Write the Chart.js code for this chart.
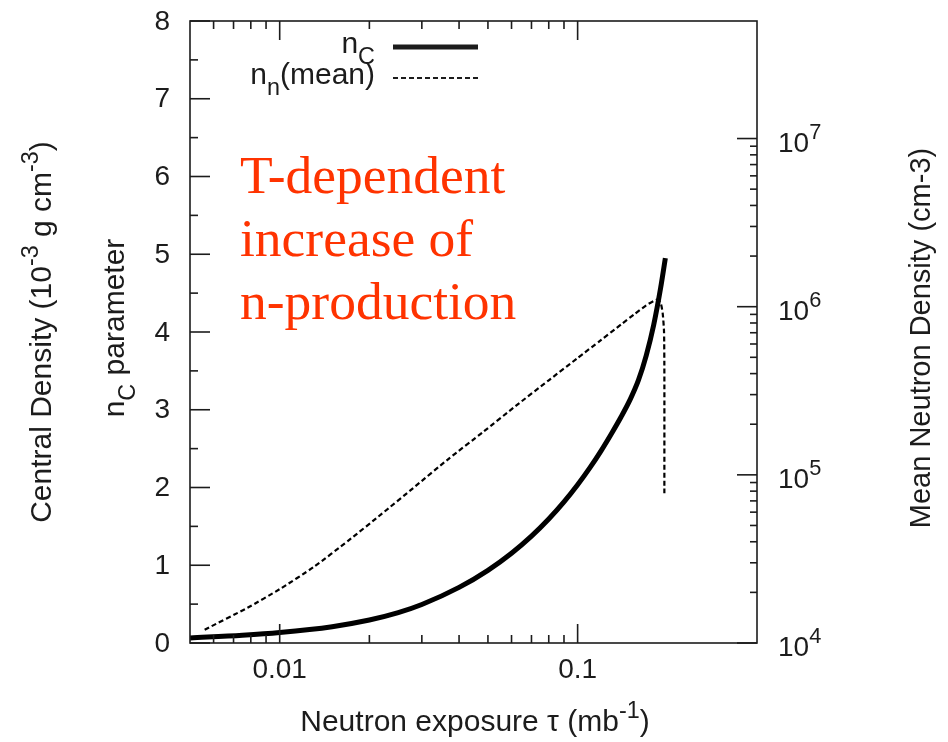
<!DOCTYPE html>
<html>
<head>
<meta charset="utf-8">
<script src="https://cdn.jsdelivr.net/npm/chart.js@4.4.1/dist/chart.umd.min.js"></script>
<style>
  html, body { margin: 0; padding: 0; background: #ffffff; }
  #wrap { width: 948px; height: 742px; }
</style>
</head>
<body>
<div id="wrap"><canvas id="c" width="948" height="742"></canvas></div>
<script>
// Neutron exposure tau (mb^-1) and the nC parameter along it
const tauC = [0.005, 0.0075, 0.01, 0.015, 0.02, 0.025, 0.03, 0.04, 0.05, 0.06, 0.07,
              0.08, 0.09, 0.10, 0.11, 0.12, 0.13, 0.14, 0.15, 0.16, 0.17, 0.18,
              0.19, 0.197];
const nC   = [0.065, 0.10, 0.135, 0.21, 0.295, 0.39, 0.495, 0.715, 0.935, 1.155, 1.375,
              1.595, 1.815, 2.035, 2.255, 2.475, 2.695, 2.91, 3.13, 3.38, 3.70, 4.09,
              4.57, 4.95];

// Mean neutron density (cm^-3) along the exposure
const tauN   = [0.0056, 0.0078, 0.010, 0.013, 0.017, 0.022, 0.028, 0.037, 0.048, 0.062,
                0.080, 0.100, 0.120, 0.140, 0.155, 0.170, 0.180, 0.185, 0.190, 0.193,
                0.195, 0.1955, 0.1955];
const nnMean = [1.20e4, 1.62e4, 2.09e4, 2.83e4, 4.06e4, 5.86e4, 8.32e4, 1.25e5, 1.79e5, 2.57e5,
                3.65e5, 4.95e5, 6.35e5, 7.85e5, 9.02e5, 1.02e6, 1.08e6, 1.10e6, 1.05e6, 9.12e5,
                7.08e5, 3.98e5, 7.76e4];

// Axis ticks
const xMajorTicks = [0.01, 0.1];
const xTickLabels = ['0.01', '0.1'];
const xMinorTicks = [0.006, 0.007, 0.008, 0.009, 0.02, 0.03, 0.04, 0.05, 0.06, 0.07, 0.08, 0.09];
const yMajorTicks = [0, 1, 2, 3, 4, 5, 6, 7, 8];
const yMinorTicks = [0.5, 1.5, 2.5, 3.5, 4.5, 5.5, 6.5, 7.5];
const y2MajorTicks = [1e4, 1e5, 1e6, 1e7];
const y2Exponents = ['4', '5', '6', '7'];
const y2MinorTicks = [2e4, 3e4, 4e4, 5e4, 6e4, 7e4, 8e4, 9e4,
                      2e5, 3e5, 4e5, 5e5, 6e5, 7e5, 8e5, 9e5,
                      2e6, 3e6, 4e6, 5e6, 6e6, 7e6, 8e6, 9e6];

const noteLines = ['T-dependent', 'increase of', 'n-production'];

const INK = '#1c1c1c';
const SANS = '"Liberation Sans", Arial, sans-serif';

// Draws a run of text pieces; each piece is [text, shift] with shift 0 normal, 1 superscript, -1 subscript
function richWidth(ctx, parts, size) {
  let w = 0;
  for (const [t, s] of parts) {
    ctx.font = (s ? size * 0.78 : size) + 'px ' + SANS;
    w += ctx.measureText(t).width;
  }
  return w;
}
function drawRich(ctx, parts, x, y, size, align) {
  const w = richWidth(ctx, parts, size);
  let cx = align === 'center' ? x - w / 2 : align === 'right' ? x - w : x;
  ctx.textAlign = 'left';
  ctx.textBaseline = 'alphabetic';
  for (const [t, s] of parts) {
    ctx.font = (s ? size * 0.78 : size) + 'px ' + SANS;
    const dy = s === 1 ? -size * 0.45 : s === -1 ? size * 0.36 : 0;
    ctx.fillText(t, cx, y + dy);
    cx += ctx.measureText(t).width;
  }
}

const framePlugin = {
  id: 'frame',
  afterDraw(chart) {
    const { ctx, chartArea: a, scales } = chart;
    const sx = scales.x, sy = scales.y, sy2 = scales.y2;
    ctx.save();
    ctx.strokeStyle = INK;
    ctx.fillStyle = INK;
    ctx.lineWidth = 1.6;
    ctx.lineCap = 'butt';

    // frame
    ctx.strokeRect(a.left, a.top, a.right - a.left, a.bottom - a.top);

    const tick = (x1, y1, x2, y2) => { ctx.beginPath(); ctx.moveTo(x1, y1); ctx.lineTo(x2, y2); ctx.stroke(); };

    // x ticks, bottom and top
    for (const v of xMajorTicks) {
      const px = sx.getPixelForValue(v);
      tick(px, a.bottom, px, a.bottom - 19);
      tick(px, a.top, px, a.top + 19);
    }
    for (const v of xMinorTicks) {
      const px = sx.getPixelForValue(v);
      tick(px, a.bottom, px, a.bottom - 8);
      tick(px, a.top, px, a.top + 8);
    }
    // left ticks
    for (const v of yMajorTicks) {
      const py = sy.getPixelForValue(v);
      tick(a.left, py, a.left + 20, py);
    }
    for (const v of yMinorTicks) {
      const py = sy.getPixelForValue(v);
      tick(a.left, py, a.left + 8, py);
    }
    // right ticks
    for (const v of y2MajorTicks) {
      const py = sy2.getPixelForValue(v);
      tick(a.right, py, a.right - 20, py);
    }
    for (const v of y2MinorTicks) {
      const py = sy2.getPixelForValue(v);
      tick(a.right, py, a.right - 7, py);
    }

    // tick labels
    const fs = 28;
    ctx.font = fs + 'px ' + SANS;
    ctx.textAlign = 'right';
    ctx.textBaseline = 'middle';
    yMajorTicks.forEach(v => ctx.fillText(String(v), 170, sy.getPixelForValue(v) + 1));
    ctx.textAlign = 'center';
    ctx.textBaseline = 'alphabetic';
    xMajorTicks.forEach((v, i) => ctx.fillText(xTickLabels[i], sx.getPixelForValue(v), 678));
    y2MajorTicks.forEach((v, i) => {
      drawRich(ctx, [['10', 0], [y2Exponents[i], 1]], 778, sy2.getPixelForValue(v) + 13, fs, 'left');
    });

    // axis titles
    const ts = 30;
    drawRich(ctx, [['Neutron exposure \u03C4 (mb', 0], ['-1', 1], [')', 0]], 475, 731, ts, 'center');

    ctx.save();
    ctx.translate(51, 332);
    ctx.rotate(-Math.PI / 2);
    drawRich(ctx, [['Central Density (10', 0], ['-3', 1], [' g cm', 0], ['-3', 1], [')', 0]], 0, 0, ts, 'center');
    ctx.restore();

    ctx.save();
    ctx.translate(124, 328);
    ctx.rotate(-Math.PI / 2);
    drawRich(ctx, [['n', 0], ['C', -1], [' parameter', 0]], 0, 0, ts, 'center');
    ctx.restore();

    ctx.save();
    ctx.translate(930, 338);
    ctx.rotate(-Math.PI / 2);
    drawRich(ctx, [['Mean Neutron Density (cm-3)', 0]], 0, 0, 29, 'center');
    ctx.restore();

    // key
    const ks = 30;
    drawRich(ctx, [['n', 0], ['C', -1]], 375, 53, ks, 'right');
    drawRich(ctx, [['n', 0], ['n', -1], ['(mean)', 0]], 375, 84, ks, 'right');
    ctx.lineWidth = 5;
    tick(393, 47, 478, 47);
    ctx.lineWidth = 2;
    ctx.setLineDash([5, 3]);
    tick(393, 78, 478, 78);
    ctx.setLineDash([]);

    // annotation
    ctx.fillStyle = '#ff3300';
    ctx.font = '53.5px "Liberation Serif", "Times New Roman", serif';
    ctx.textAlign = 'left';
    ctx.textBaseline = 'alphabetic';
    noteLines.forEach((t, i) => ctx.fillText(t, 240, 193 + i * 63));

    ctx.restore();
  }
};

new Chart(document.getElementById('c'), {
  type: 'line',
  data: {
    datasets: [
      {
        label: 'nC',
        data: tauC.map((t, i) => ({ x: t, y: nC[i] })),
        yAxisID: 'y',
        borderColor: '#000000',
        borderWidth: 5,
        pointRadius: 0,
        fill: false,
        cubicInterpolationMode: 'monotone'
      },
      {
        label: 'nn(mean)',
        data: tauN.map((t, i) => ({ x: t, y: nnMean[i] })),
        yAxisID: 'y2',
        borderColor: '#000000',
        borderWidth: 2.2,
        borderDash: [5, 3],
        pointRadius: 0,
        fill: false,
        tension: 0.2
      }
    ]
  },
  options: {
    responsive: false,
    animation: false,
    devicePixelRatio: 1,
    layout: { padding: { left: 190, right: 191, top: 21, bottom: 99 } },
    plugins: { legend: { display: false }, tooltip: { enabled: false } },
    scales: {
      x: { type: 'logarithmic', min: 0.005, max: 0.4, display: false },
      y: { type: 'linear', min: 0, max: 8, display: false },
      y2: { type: 'logarithmic', min: 1e4, max: 5e7, display: false, position: 'right' }
    }
  },
  plugins: [framePlugin]
});
</script>
</body>
</html>
